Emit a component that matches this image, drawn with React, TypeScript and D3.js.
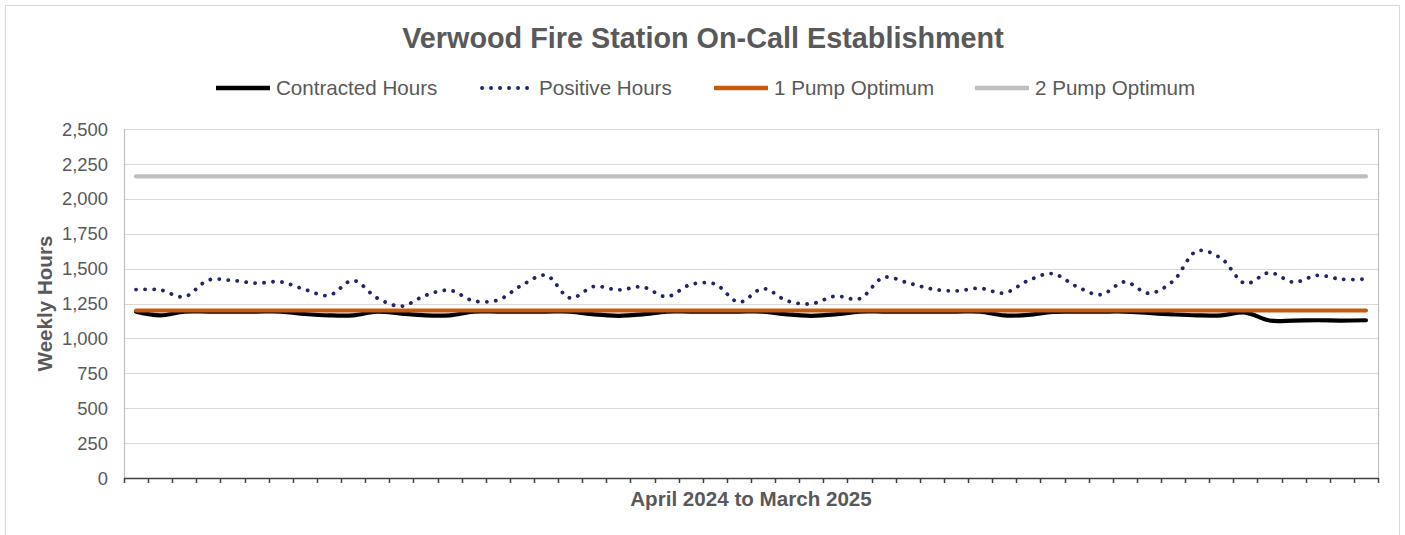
import React from "react";
import * as d3 from "d3";

const title = "Verwood Fire Station On-Call Establishment";
const xAxisTitle = "April 2024 to March 2025";
const yAxisTitle = "Weekly Hours";
const seriesNames = ["Contracted Hours", "Positive Hours", "1 Pump Optimum", "2 Pump Optimum"];
const yTicks = [0, 250, 500, 750, 1000, 1250, 1500, 1750, 2000, 2250, 2500];

// 52 weekly categories (April 2024 – March 2025), unlabeled on the axis
const weeks = d3.range(52);

const positiveHours = [
  1350, 1347, 1298, 1418, 1415, 1396, 1405, 1350, 1308, 1415,
  1289, 1231, 1308, 1345, 1269, 1274, 1381, 1452, 1289, 1372,
  1347, 1369, 1299, 1386, 1390, 1260, 1357, 1269, 1248, 1303,
  1284, 1437, 1398, 1354, 1340, 1359, 1325, 1415, 1464, 1372,
  1313, 1405, 1323, 1410, 1627, 1573, 1393, 1471, 1403, 1452,
  1423, 1425,
];

const contractedHours = [
  1192, 1165, 1192, 1192, 1192, 1192, 1192, 1175, 1165, 1165,
  1192, 1178, 1165, 1165, 1192, 1192, 1192, 1192, 1192, 1172,
  1162, 1172, 1192, 1192, 1192, 1192, 1192, 1172, 1162, 1172,
  1192, 1192, 1192, 1192, 1192, 1192, 1165, 1168, 1190, 1192,
  1192, 1192, 1182, 1172, 1165, 1165, 1185, 1128, 1128, 1130,
  1128, 1130,
];

const onePumpOptimum = 1200;
const twoPumpOptimum = 2160;

const W = 1405;
const H = 535;
const plotLeft = 124;
const plotRight = 1378;
const plotTop = 129;
const plotBottom = 478;

const TEXT = "#595959";
const FONT = "'Liberation Sans', Arial, sans-serif";

export default function App() {
  const x = d3.scaleBand<number>().domain(weeks).range([plotLeft, plotRight]).padding(0);
  const cx = (i: number) => (x(i) as number) + x.bandwidth() / 2;
  const y = d3.scaleLinear().domain([0, 2500]).range([plotBottom, plotTop]);

  const line = d3
    .line<number>()
    .x((_, i) => cx(i))
    .y((d) => y(d))
    .curve(d3.curveCatmullRom.alpha(0.5));

  const first = cx(weeks[0]);
  const last = cx(weeks[weeks.length - 1]);

  const tickXs = weeks.map((w) => x(w) as number).concat([plotRight]);

  const legend = [
    { name: seriesNames[0], x0: 216, tx: 276, color: "#000000", dotted: false },
    { name: seriesNames[1], x0: 480, tx: 539, color: "#1f2568", dotted: true },
    { name: seriesNames[2], x0: 714, tx: 774, color: "#c55a11", dotted: false },
    { name: seriesNames[3], x0: 975, tx: 1035, color: "#bfbfbf", dotted: false },
  ];

  return (
    <svg
      width={W}
      height={H}
      style={{ position: "absolute", left: 0, top: 0, background: "#fff" }}
      fontFamily={FONT}
    >
      <rect x={0} y={0} width={W} height={H} fill="#fff" />
      {/* chart border */}
      <path d={`M5.5,${H + 5} V5.5 H1399.5 V${H + 5}`} fill="none" stroke="#d9d9d9" strokeWidth={1} />

      <text x={703} y={48} textAnchor="middle" fontSize={28.8} fontWeight="bold" fill={TEXT}>
        {title}
      </text>

      {/* legend */}
      {legend.map((l) => (
        <g key={l.name}>
          {l.dotted ? (
            <line
              x1={l.x0 + 2}
              x2={l.x0 + 52}
              y1={88}
              y2={88}
              stroke={l.color}
              strokeWidth={3.8}
              strokeLinecap="round"
              strokeDasharray="0.1 8.9"
            />
          ) : (
            <line x1={l.x0} x2={l.x0 + 54} y1={88} y2={88} stroke={l.color} strokeWidth={4.5} />
          )}
          <text x={l.tx} y={95} fontSize={20.6} fill={TEXT}>
            {l.name}
          </text>
        </g>
      ))}

      {/* gridlines */}
      {yTicks.map((t) => (
        <line
          key={t}
          x1={plotLeft}
          x2={plotRight}
          y1={Math.round(y(t)) + 0.5}
          y2={Math.round(y(t)) + 0.5}
          stroke="#d9d9d9"
          strokeWidth={1.2}
        />
      ))}
      {/* left and right plot border */}
      <line x1={plotLeft + 0.5} x2={plotLeft + 0.5} y1={plotTop} y2={plotBottom} stroke="#bfbfbf" strokeWidth={1.2} />
      <line x1={plotRight + 0.5} x2={plotRight + 0.5} y1={plotTop} y2={plotBottom} stroke="#bfbfbf" strokeWidth={1.2} />

      {/* y tick labels */}
      {yTicks.map((t) => (
        <text key={t} x={108} y={y(t) + 6.6} textAnchor="end" fontSize={18.4} fill={TEXT}>
          {d3.format(",")(t)}
        </text>
      ))}

      {/* x axis */}
      <line x1={plotLeft} x2={plotRight + 1} y1={plotBottom + 0.5} y2={plotBottom + 0.5} stroke="#404040" strokeWidth={1.5} />
      {tickXs.map((tx, i) => (
        <line
          key={i}
          x1={Math.round(tx) + 0.5}
          x2={Math.round(tx) + 0.5}
          y1={plotBottom}
          y2={plotBottom + 5}
          stroke="#404040"
          strokeWidth={1.5}
        />
      ))}

      {/* series */}
      <path d={line(contractedHours) || ""} fill="none" stroke="#000" strokeWidth={4.2} strokeLinejoin="round" strokeLinecap="round" />
      <path
        d={line(positiveHours) || ""}
        fill="none"
        stroke="#1f2568"
        strokeWidth={3.8}
        strokeLinecap="round"
        strokeDasharray="0.1 8.9"
      />
      <line x1={first} x2={last} y1={y(onePumpOptimum)} y2={y(onePumpOptimum)} stroke="#c55a11" strokeWidth={4.2} strokeLinecap="round" />
      <line x1={first} x2={last} y1={y(twoPumpOptimum)} y2={y(twoPumpOptimum)} stroke="#bfbfbf" strokeWidth={4.2} strokeLinecap="round" />

      {/* axis titles */}
      <text x={751} y={505.5} textAnchor="middle" fontSize={20.6} fontWeight="bold" fill={TEXT}>
        {xAxisTitle}
      </text>
      <text
        transform={`translate(51.5,${(plotTop + plotBottom) / 2}) rotate(-90)`}
        textAnchor="middle"
        fontSize={20.6}
        fontWeight="bold"
        fill={TEXT}
      >
        {yAxisTitle}
      </text>
    </svg>
  );
}
